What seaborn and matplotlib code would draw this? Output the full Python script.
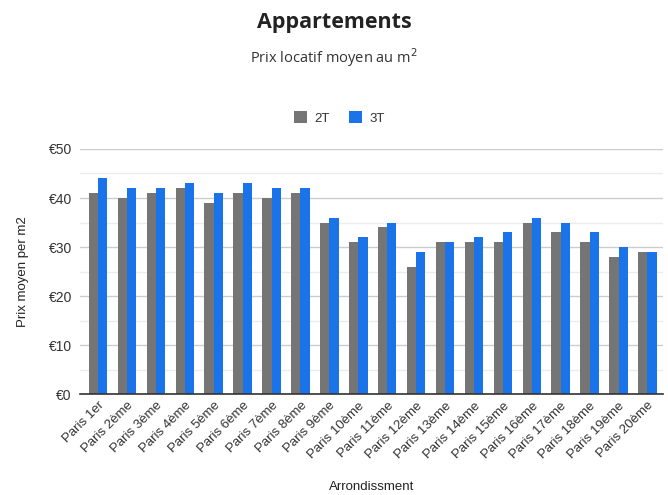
import matplotlib
matplotlib.use("Agg")
import matplotlib.pyplot as plt
from matplotlib.ticker import MultipleLocator, FuncFormatter
from matplotlib.patches import Patch
import seaborn as sns
import pandas as pd

arrondissements = ["Paris 1er", "Paris 2ème", "Paris 3ème", "Paris 4ème", "Paris 5ème",
                   "Paris 6ème", "Paris 7ème", "Paris 8ème", "Paris 9ème", "Paris 10ème",
                   "Paris 11ème", "Paris 12ème", "Paris 13ème", "Paris 14ème", "Paris 15ème",
                   "Paris 16ème", "Paris 17ème", "Paris 18ème", "Paris 19ème", "Paris 20ème"]
prix_2t = [41, 40, 41, 42, 39, 41, 40, 41, 35, 31, 34, 26, 31, 31, 31, 35, 33, 31, 28, 29]
prix_3t = [44, 42, 42, 43, 41, 43, 42, 42, 36, 32, 35, 29, 31, 32, 33, 36, 35, 33, 30, 29]
series = ["2T", "3T"]
colors = ["#757575", "#1a73e8"]

df = pd.DataFrame({
    "Arrondissment": arrondissements * 2,
    "Prix": prix_2t + prix_3t,
    "Type": [series[0]] * len(prix_2t) + [series[1]] * len(prix_3t),
})

sns.set_theme(style="white")
plt.rcParams["font.family"] = ["Liberation Sans", "DejaVu Sans"]

fig = plt.figure(figsize=(6.68, 4.95), dpi=100)
ax = fig.add_axes([0.12, 0.204, 0.873, 0.495])

sns.barplot(data=df, x="Arrondissment", y="Prix", hue="Type", palette=colors,
            width=0.64, gap=0, saturation=1, linewidth=0, ax=ax, legend=False, zorder=3)

ax.set_ylim(0, 50)
ax.set_xlim(-0.62, 19.55)
ax.yaxis.set_major_locator(MultipleLocator(10))
ax.yaxis.set_minor_locator(MultipleLocator(5))
ax.yaxis.set_major_formatter(FuncFormatter(lambda v, p: f"€{int(v)}"))
ax.grid(axis="y", which="major", color="#cccccc", linewidth=1, zorder=0)
ax.grid(axis="y", which="minor", color="#ececec", linewidth=1, zorder=0)
for s in ["top", "right", "left"]:
    ax.spines[s].set_visible(False)
ax.spines["bottom"].set_color("#333333")
ax.spines["bottom"].set_linewidth(1.2)
ax.spines["bottom"].set_zorder(4)

ax.tick_params(axis="y", which="both", length=0, labelsize=10, colors="#333333", pad=6)
ax.tick_params(axis="x", length=0, labelsize=9.5, colors="#333333", pad=4)
plt.setp(ax.get_xticklabels(), rotation=45, ha="right", rotation_mode="anchor")

ax.set_xlabel("Arrondissment", fontsize=9.5, color="#222222", labelpad=15)
ax.set_ylabel("Prix moyen per m2", fontsize=9.5, color="#222222", labelpad=14)

fig.text(0.5, 0.955, "Appartements", ha="center", va="center", fontsize=15.5,
         fontweight="bold", color="#222222", family=["Open Sans", "DejaVu Sans"])
fig.text(0.5, 0.883, "Prix locatif moyen au m$^2$", ha="center", va="center",
         fontsize=10.5, color="#333333", family=["Open Sans", "DejaVu Sans"])

handles = [Patch(facecolor=c, edgecolor="none") for c in colors]
fig.legend(handles, series, loc="center", bbox_to_anchor=(0.508, 0.762), ncol=2,
           frameon=False, fontsize=9.5, handlelength=1.0, handleheight=1.0,
           handletextpad=0.6, columnspacing=1.4, labelcolor="#333333")

fig.savefig("out.png", dpi=100, facecolor="white")
